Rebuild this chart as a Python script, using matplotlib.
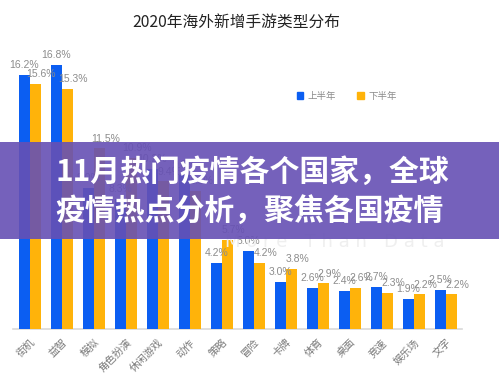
#!/usr/bin/env python3
"""
2020 overseas new mobile games by genre, with the purple headline banner
"""
import numpy as np
import matplotlib
matplotlib.use('Agg')
import matplotlib.pyplot as plt
from matplotlib.patches import Rectangle, Patch

plt.rcParams['font.family'] = ['Noto Sans CJK SC', 'DejaVu Sans']

# data (values hidden by the banner are estimates)
genres = ['街机', '益智', '模拟', '角色扮演', '休闲游戏', '动作', '策略',
          '冒险', '卡牌', '体育', '桌面', '竞速', '娱乐场', '文字']
first_half = [16.2, 16.8, 9.0, 8.3, 10.2, 9.8, 4.2, 5.0, 3.0, 2.6, 2.4, 2.7, 1.9, 2.5]
second_half = [15.6, 15.3, 11.5, 10.9, 9.4, 8.8, 5.7, 4.2, 3.8, 2.9, 2.6, 2.3, 2.2, 2.2]
series_names = ['上半年', '下半年']

BLUE = '#0b5ef2'
ORANGE = '#ffb30a'
W, H = 499, 381

fig = plt.figure(figsize=(W / 100, H / 100), dpi=100)
ax = fig.add_axes([13 / W, 52 / H, 449 / W, 314 / H])

x = np.arange(len(genres))
bw = 0.34
b1 = ax.bar(x - 0.18, first_half, bw, color=BLUE, zorder=3)
b2 = ax.bar(x + 0.18, second_half, bw, color=ORANGE, zorder=3)

for rect, v in zip(b1, first_half):
    ax.annotate(f'{v}%', (rect.get_x() + rect.get_width() / 2, v),
                xytext=(0, 3.5), textcoords='offset points', ha='center', va='bottom',
                fontsize=7.5, color='#8c8c8c', family='Liberation Sans', zorder=4)
for rect, v in zip(b2, second_half):
    ax.annotate(f'{v}%', (rect.get_x() + rect.get_width() / 2, v),
                xytext=(4, 3.5), textcoords='offset points', ha='center', va='bottom',
                fontsize=7.5, color='#8c8c8c', family='Liberation Sans', zorder=4)

ax.set_xlim(-0.53, 13.5)
ax.set_ylim(0, 20)
ax.set_yticks([])
ax.set_xticks(x)
ax.set_xticklabels(genres, rotation=45, ha='right', rotation_mode='anchor',
                   fontsize=7.5, color='#7a7a7a')
ax.tick_params(axis='x', length=0, pad=6)
for s in ['top', 'right', 'left']:
    ax.spines[s].set_visible(False)
ax.spines['bottom'].set_color('#d9d9d9')
ax.spines['bottom'].set_linewidth(1.2)

# faint watermark
fig.text(335 / W, 1 - 242 / H, 'M o r e   T h a n   D a t a', ha='center', va='center',
         fontsize=13, color='#efefef', family='DejaVu Sans', zorder=0)

fig.text(236 / W, 1 - 22 / H, '2020年海外新增手游类型分布', ha='center', va='center',
         fontsize=11.3, color='#222222', fontweight='medium')

handles = [Patch(color=BLUE), Patch(color=ORANGE)]
fig.legend(handles, series_names, loc='center left', bbox_to_anchor=(288 / W, 1 - 96 / H),
           ncol=2, frameon=False, fontsize=6.8, labelcolor='#8c8c8c',
           handlelength=0.7, handleheight=0.7, handletextpad=0.5, columnspacing=2.2)

# headline banner over the chart
fig.patches.append(Rectangle((0, 1 - 239 / H), 1, 97 / H, transform=fig.transFigure,
                             facecolor='#6650b4', alpha=0.9, edgecolor='none', zorder=10))
fig.text(55 / W, 1 - 172 / H, '11月热门疫情各个国家，全球', ha='left', va='center',
         fontsize=21.5, color='white', fontweight='bold', zorder=11)
fig.text(55 / W, 1 - 211 / H, '疫情热点分析，聚焦各国疫情', ha='left', va='center',
         fontsize=21.5, color='white', fontweight='bold', zorder=11)

fig.savefig('out.png', dpi=100)
